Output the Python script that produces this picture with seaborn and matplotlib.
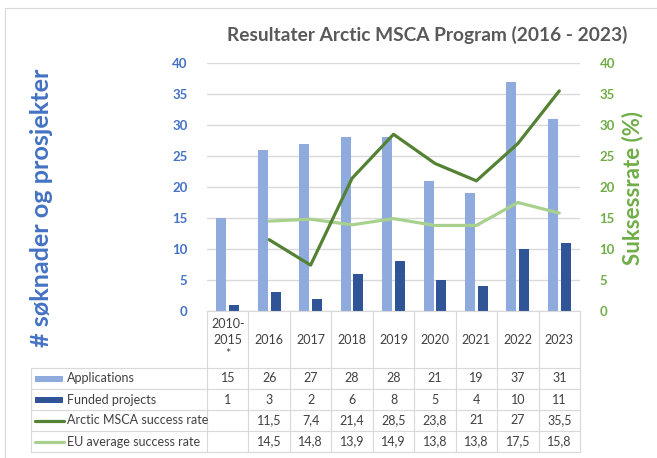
import numpy as np
import pandas as pd
import matplotlib
matplotlib.use("Agg")
import matplotlib.pyplot as plt
import seaborn as sns

# Data
years = ["2010-\n2015\n*", "2016", "2017", "2018", "2019", "2020", "2021", "2022", "2023"]
applications = [15, 26, 27, 28, 28, 21, 19, 37, 31]
funded = [1, 3, 2, 6, 8, 5, 4, 10, 11]
arctic_rate = [np.nan, 11.5, 7.4, 21.4, 28.5, 23.8, 21, 27, 35.5]
eu_rate = [np.nan, 14.5, 14.8, 13.9, 14.9, 13.8, 13.8, 17.5, 15.8]
series_names = ["Applications", "Funded projects", "Arctic MSCA success rate", "EU average success rate"]

c_app = "#8FAADC"
c_fund = "#2F5597"
c_arctic = "#548235"
c_eu = "#A9D18E"
c_blue = "#4472C4"
c_green = "#70AD47"
c_grid = "#D9D9D9"
c_text = "#404040"

sns.set_style("white")
plt.rcParams["font.family"] = ["Lato", "DejaVu Sans"]

W, H = 657, 458
fig = plt.figure(figsize=(W / 100, H / 100), dpi=100)


def fx(px):
    return px / W


def fy(py):
    return 1 - py / H


# plot area
left, right, top, bottom = 207, 580, 63, 311
ax = fig.add_axes([fx(left), fy(bottom), fx(right) - fx(left), fy(top) - fy(bottom)])

bars = pd.DataFrame({
    "pos": list(range(len(years))) * 2,
    "value": applications + funded,
    "series": [series_names[0]] * len(years) + [series_names[1]] * len(years),
})
sns.barplot(data=bars, x="pos", y="value", hue="series", palette=[c_app, c_fund],
            width=0.62, gap=0.22, saturation=1, linewidth=0, legend=False, ax=ax,
            native_scale=True)
ax.set_xlim(-0.5, len(years) - 0.5)
ax.set_ylim(0, 40)
ax.set_yticks(range(0, 41, 5))
ax.grid(axis="y", color=c_grid, linewidth=1)
ax.set_axisbelow(True)
ax.set_xticks([])
ax.set_xlabel("")
ax.set_ylabel("")
for s in ax.spines.values():
    s.set_visible(False)
ax.tick_params(axis="y", length=0, pad=14, labelsize=9.5, labelcolor=c_blue)
for t in ax.get_yticklabels():
    t.set_fontweight("bold")

ax2 = ax.twinx()
rates = pd.DataFrame({"pos": range(len(years)), "arctic": arctic_rate, "eu": eu_rate})
sns.lineplot(data=rates, x="pos", y="eu", color=c_eu, linewidth=2.3, ax=ax2)
sns.lineplot(data=rates, x="pos", y="arctic", color=c_arctic, linewidth=2.3, ax=ax2)
ax2.set_ylim(0, 40)
ax2.set_yticks(range(0, 41, 5))
ax2.set_xlim(-0.5, len(years) - 0.5)
ax2.set_ylabel("")
ax2.set_xlabel("")
for s in ax2.spines.values():
    s.set_visible(False)
ax2.tick_params(axis="y", length=0, pad=14, labelsize=9.5, labelcolor=c_green)
for t in ax2.get_yticklabels():
    t.set_fontweight("bold")

# titles and axis labels
fig.text(fx(427), fy(35), "Resultater Arctic MSCA Program (2016 - 2023)", ha="center", va="center",
         fontsize=13.8, fontweight="bold", color="#595959")
fig.text(fx(42), fy(208), "# søknader og prosjekter", rotation=90, ha="center", va="center",
         fontsize=18.2, fontweight="bold", color=c_blue)
fig.text(fx(633), fy(188), "Suksessrate (%)", rotation=90, ha="center", va="center",
         fontsize=16, fontweight="bold", color=c_green)

# data table
col_w = (right - left) / len(years)
row_y = [311, 368, 389, 410, 431, 452]
lab_left = 31
lw = 0.8


def hline(y, x0, x1):
    fig.add_artist(plt.Line2D([fx(x0), fx(x1)], [fy(y), fy(y)], color=c_grid, lw=lw))


def vline(x, y0, y1):
    fig.add_artist(plt.Line2D([fx(x), fx(x)], [fy(y0), fy(y1)], color=c_grid, lw=lw))


hline(row_y[0], left, right)
for y in row_y[1:]:
    hline(y, lab_left, right)
for i in range(len(years) + 1):
    vline(left + i * col_w, row_y[0], row_y[-1])
vline(lab_left, row_y[1], row_y[-1])

for i, yr in enumerate(years):
    cx = left + (i + 0.5) * col_w
    fig.text(fx(cx), fy((row_y[0] + row_y[1]) / 2), yr, ha="center", va="center",
             fontsize=9, color=c_text, linespacing=1.3)

rows = [applications, funded, arctic_rate, eu_rate]
colors = [c_app, c_fund, c_arctic, c_eu]
for r, (name, vals, col) in enumerate(zip(series_names, rows, colors)):
    y0, y1 = row_y[r + 1], row_y[r + 2]
    cy = (y0 + y1) / 2
    if r < 2:
        fig.add_artist(plt.Rectangle((fx(35), fy(cy + 3)), fx(63) - fx(35), fy(cy - 3) - fy(cy + 3),
                                     color=col, lw=0))
    else:
        fig.add_artist(plt.Line2D([fx(35), fx(64)], [fy(cy), fy(cy)], color=col, lw=2.3))
    fig.text(fx(67), fy(cy), name, ha="left", va="center", fontsize=9, color=c_text)
    for i, v in enumerate(vals):
        if v is None or (isinstance(v, float) and np.isnan(v)):
            continue
        txt = (f"{v:g}").replace(".", ",")
        fig.text(fx(left + (i + 0.5) * col_w), fy(cy), txt, ha="center", va="center",
                 fontsize=9, color=c_text)

# outer chart border
fig.add_artist(plt.Rectangle((fx(5), fy(470)), fx(700) - fx(5), fy(8) - fy(470),
                             fill=False, edgecolor=c_grid, lw=0.8))

fig.savefig("out.png", dpi=100)
